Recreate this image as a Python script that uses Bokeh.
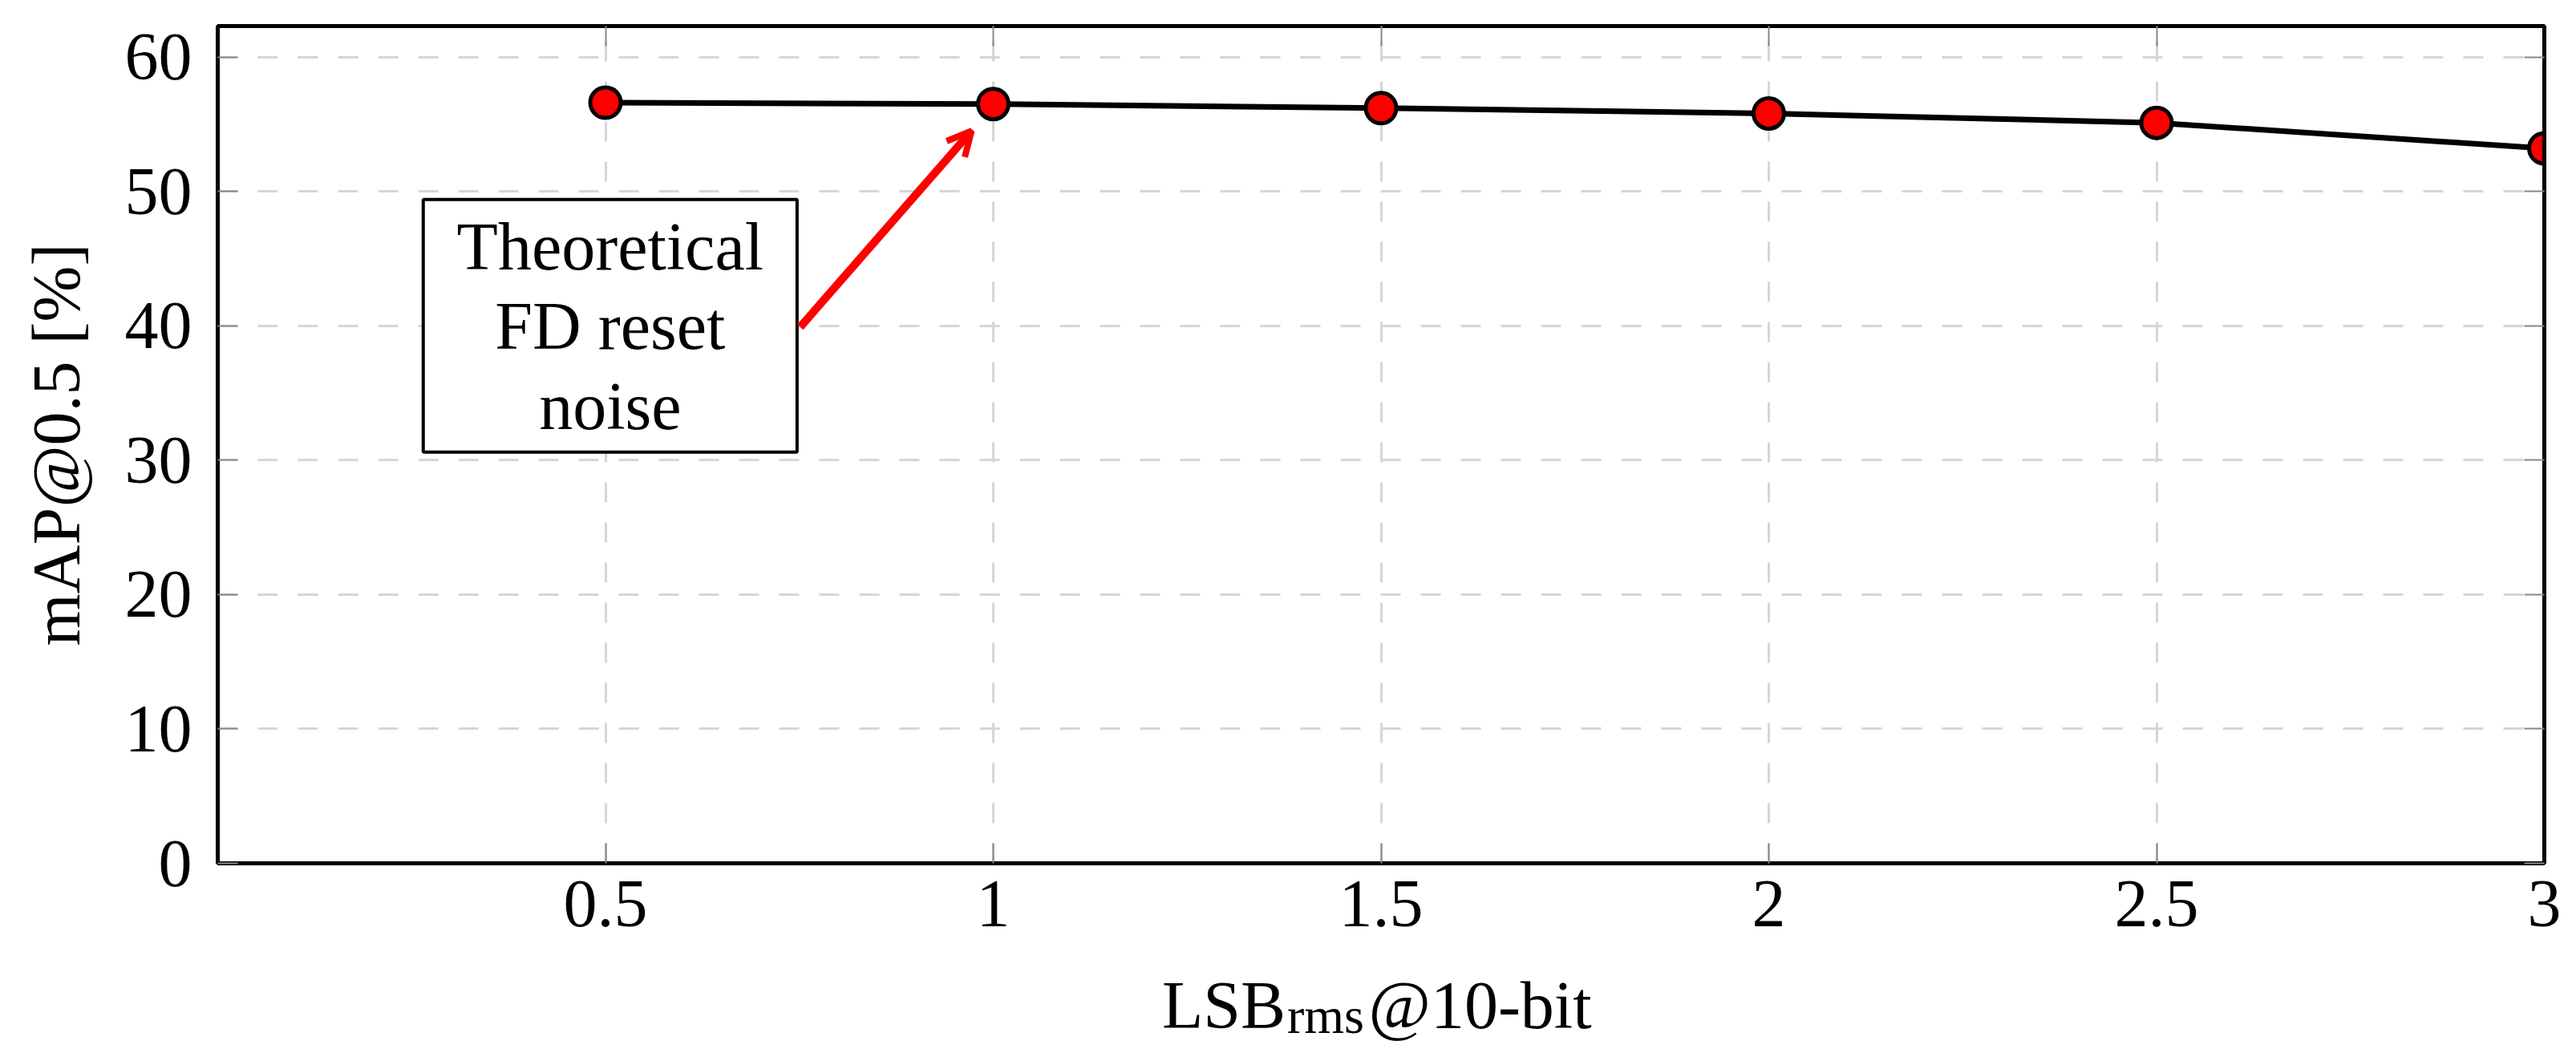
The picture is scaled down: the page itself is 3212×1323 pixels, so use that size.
from bokeh.plotting import figure
from bokeh.models import Range1d, FixedTicker, Label, Arrow, OpenHead, BoxAnnotation, LinearAxis
from bokeh.layouts import column
from bokeh.embed import file_html
from bokeh.resources import INLINE

# ---- data ----
lsb_rms = [0.5, 1.0, 1.5, 2.0, 2.5, 3.0]
map50 = [56.6, 56.5, 56.2, 55.8, 55.1, 53.2]
x_ticks = [0.5, 1.0, 1.5, 2.0, 2.5, 3.0]
x_tick_labels = ["0.5", "1", "1.5", "2", "2.5", "3"]
y_ticks = [0, 10, 20, 30, 40, 50, 60]
annotation_lines = ["Theoretical", "FD reset", "noise"]

FONT = "Liberation Serif"
FS = "84px"
W = 3204
ML, MR = 271, 32

x_range = Range1d(0, 3)
p = figure(width=W, height=1192, output_backend="svg", toolbar_location=None,
           x_range=x_range, y_range=Range1d(0, 62.3),
           min_border_left=ML, min_border_right=MR, min_border_top=32, min_border_bottom=116)
p.background_fill_color = "white"
p.border_fill_color = "white"
p.outline_line_color = "black"
p.outline_line_width = 5

# mirrored tick-only axes on top and right
p.add_layout(LinearAxis(), "right")
p.add_layout(LinearAxis(), "above")

for ax in p.axis:
    ax.axis_line_color = "black"
    ax.axis_line_width = 5
    ax.major_tick_in = 25
    ax.major_tick_out = 0
    ax.major_tick_line_color = "#888888"
    ax.major_tick_line_width = 2
    ax.minor_tick_line_color = None
    ax.major_label_text_font = FONT
    ax.major_label_text_font_size = FS
    ax.major_label_text_color = "black"
    ax.axis_label_text_font = FONT
    ax.axis_label_text_font_size = FS
    ax.axis_label_text_font_style = "normal"
    ax.axis_label_text_color = "black"

for ax in p.xaxis:
    ax.ticker = FixedTicker(ticks=x_ticks)
    ax.major_label_overrides = dict(zip(x_ticks, x_tick_labels))
for ax in p.yaxis:
    ax.ticker = FixedTicker(ticks=y_ticks)

for ax in (p.right[0], p.above[0]):
    ax.major_label_text_font_size = "0px"
    ax.major_label_standoff = 0
    ax.major_label_text_color = None

p.below[0].major_label_standoff = 22
p.left[0].major_label_standoff = 32
p.left[0].axis_label = "mAP@0.5 [%]"
p.left[0].axis_label_standoff = 36

# grid
for g in (p.xgrid[0], p.ygrid[0]):
    g.grid_line_color = "#d6d6d6"
    g.grid_line_width = 3
    g.grid_line_dash = "25 25"

# data
p.line(lsb_rms, map50, line_color="black", line_width=7)
p.scatter(lsb_rms, map50, size=38, fill_color="red", line_color="black", line_width=5)

# annotation box
box = BoxAnnotation(left=0.265, right=0.747, top=49.4, bottom=30.6,
                    fill_color="white", fill_alpha=1.0, line_color="black", line_alpha=1.0,
                    line_width=4, level="annotation")
p.add_layout(box)
for txt, yb in zip(annotation_lines, [45.9, 40.0, 34.0]):
    p.add_layout(Label(x=0.506, y=yb, text=txt, text_align="center", text_baseline="alphabetic",
                       text_font=FONT, text_font_size=FS, text_color="black"))

p.add_layout(Arrow(x_start=0.751, y_start=39.9, x_end=0.972, y_end=54.5,
                   line_color="red", line_width=10,
                   end=OpenHead(size=30, line_color="red", line_width=8)))

# x axis title with subscript, in a strip below the plot
p2 = figure(width=W, height=118, output_backend="svg", toolbar_location=None,
            x_range=x_range, y_range=Range1d(0, 118),
            x_axis_type=None, y_axis_type=None, title=None,
            min_border_left=ML, min_border_right=MR, min_border_top=0, min_border_bottom=0)
p2.outline_line_color = None
p2.grid.visible = False
p2.background_fill_color = "white"
p2.border_fill_color = "white"
p2.add_layout(Label(x=1.377, y=57, text="LSB", text_align="right", text_baseline="alphabetic",
                    text_font=FONT, text_font_size=FS, text_color="black"))
p2.add_layout(Label(x=1.379, y=44, text="rms", text_align="left", text_baseline="alphabetic",
                    text_font=FONT, text_font_size="64px", text_color="black"))
p2.add_layout(Label(x=1.484, y=57, text="@10-bit", text_align="left", text_baseline="alphabetic",
                    text_font=FONT, text_font_size=FS, text_color="black"))

layout = column(p, p2, spacing=0)
open("out.html", "w").write(file_html(layout, INLINE))
